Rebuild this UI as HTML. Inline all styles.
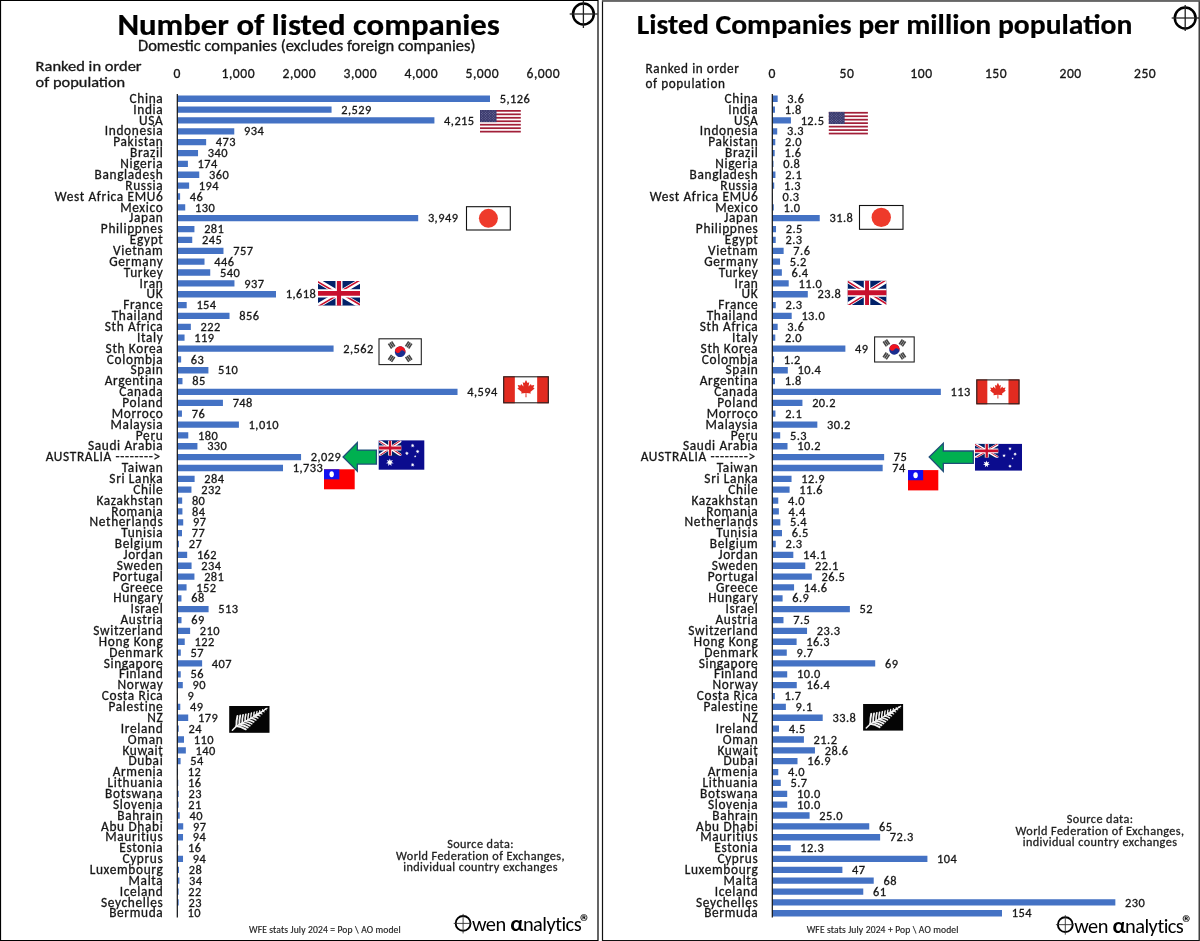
<!DOCTYPE html><html><head><meta charset="utf-8"><title>Listed companies</title><style>
html,body{margin:0;padding:0;background:#fff;width:1200px;height:941px;overflow:hidden}
svg{display:block;will-change:transform}
text{font-family:Carlito,"Liberation Sans",sans-serif;fill:#161616;stroke:#161616;stroke-width:0.3px}
.c{font-size:13.33px;letter-spacing:0.66px;text-anchor:end}
.v{font-size:12.4px;letter-spacing:0.45px}
.ax{font-size:13.6px;letter-spacing:0.5px;text-anchor:middle}
.t1{font-size:31.0px;font-weight:700;fill:#000;stroke:#000;stroke-width:0.2px}
.t2{font-size:28.0px;font-weight:700;fill:#000;stroke:#000;stroke-width:0.2px}
.sub{font-size:15.3px}
.rk{font-size:14.4px}
.rk2{font-size:13.2px;letter-spacing:0.6px}
.src{font-size:12.2px;letter-spacing:0.42px;text-anchor:middle;fill:#222;stroke:#222}
.ft{font-size:9.6px;letter-spacing:0.13px;fill:#222;stroke:#222;stroke-width:0.15px}
.logo{font-size:20.4px;fill:#000;stroke:none}
.alpha{font-weight:700;font-size:22.6px;fill:#000;stroke:none}
.reg{font-size:21px;font-weight:700;fill:#000;stroke:none}
</style></head><body>
<svg width="1200" height="941" viewBox="0 0 1200 941">
<defs><symbol id="uj" viewBox="0 0 60 30" preserveAspectRatio="none"><clipPath id="ujs"><path d="M0,0v30h60v-30z"/></clipPath><clipPath id="ujt"><path d="M30,15h30v15zv15h-30zh-30v-15zv-15h30z"/></clipPath><g clip-path="url(#ujs)"><path d="M0,0v30h60v-30z" fill="#012169"/><path d="M0,0L60,30M60,0L0,30" stroke="#fff" stroke-width="6"/><path d="M0,0L60,30M60,0L0,30" clip-path="url(#ujt)" stroke="#C8102E" stroke-width="4"/><path d="M30,0v30M0,15h60" stroke="#fff" stroke-width="10"/><path d="M30,0v30M0,15h60" stroke="#C8102E" stroke-width="6"/></g></symbol></defs>
<rect width="1200" height="941" fill="#fff"/>
<path d="M177.30,95.60h312.69v6.3h-312.69zM177.30,106.46h154.27v6.3h-154.27zM177.30,117.32h257.12v6.3h-257.12zM177.30,128.18h56.97v6.3h-56.97zM177.30,139.04h28.85v6.3h-28.85zM177.30,149.90h20.74v6.3h-20.74zM177.30,160.76h10.61v6.3h-10.61zM177.30,171.62h21.96v6.3h-21.96zM177.30,182.48h11.83v6.3h-11.83zM177.30,193.34h2.81v6.3h-2.81zM177.30,204.20h7.93v6.3h-7.93zM177.30,215.06h240.89v6.3h-240.89zM177.30,225.92h17.14v6.3h-17.14zM177.30,236.78h14.95v6.3h-14.95zM177.30,247.64h46.18v6.3h-46.18zM177.30,258.50h27.21v6.3h-27.21zM177.30,269.36h32.94v6.3h-32.94zM177.30,280.22h57.16v6.3h-57.16zM177.30,291.08h98.70v6.3h-98.70zM177.30,301.94h9.39v6.3h-9.39zM177.30,312.80h52.22v6.3h-52.22zM177.30,323.66h13.54v6.3h-13.54zM177.30,334.52h7.26v6.3h-7.26zM177.30,345.38h156.28v6.3h-156.28zM177.30,356.24h3.84v6.3h-3.84zM177.30,367.10h31.11v6.3h-31.11zM177.30,377.96h5.18v6.3h-5.18zM177.30,388.82h280.23v6.3h-280.23zM177.30,399.68h45.63v6.3h-45.63zM177.30,410.54h4.64v6.3h-4.64zM177.30,421.40h61.61v6.3h-61.61zM177.30,432.26h10.98v6.3h-10.98zM177.30,443.12h20.13v6.3h-20.13zM177.30,453.98h123.77v6.3h-123.77zM177.30,464.84h105.71v6.3h-105.71zM177.30,475.70h17.32v6.3h-17.32zM177.30,486.56h14.15v6.3h-14.15zM177.30,497.42h4.88v6.3h-4.88zM177.30,508.28h5.12v6.3h-5.12zM177.30,519.14h5.92v6.3h-5.92zM177.30,530.00h4.70v6.3h-4.70zM177.30,540.86h1.65v6.3h-1.65zM177.30,551.72h9.88v6.3h-9.88zM177.30,562.58h14.27v6.3h-14.27zM177.30,573.44h17.14v6.3h-17.14zM177.30,584.30h9.27v6.3h-9.27zM177.30,595.16h4.15v6.3h-4.15zM177.30,606.02h31.29v6.3h-31.29zM177.30,616.88h4.21v6.3h-4.21zM177.30,627.74h12.81v6.3h-12.81zM177.30,638.60h7.44v6.3h-7.44zM177.30,649.46h3.48v6.3h-3.48zM177.30,660.32h24.83v6.3h-24.83zM177.30,671.18h3.42v6.3h-3.42zM177.30,682.04h5.49v6.3h-5.49zM177.30,692.90h0.55v6.3h-0.55zM177.30,703.76h2.99v6.3h-2.99zM177.30,714.62h10.92v6.3h-10.92zM177.30,725.48h1.46v6.3h-1.46zM177.30,736.34h6.71v6.3h-6.71zM177.30,747.20h8.54v6.3h-8.54zM177.30,758.06h3.29v6.3h-3.29zM177.30,768.92h0.73v6.3h-0.73zM177.30,779.78h0.98v6.3h-0.98zM177.30,790.64h1.40v6.3h-1.40zM177.30,801.50h1.28v6.3h-1.28zM177.30,812.36h2.44v6.3h-2.44zM177.30,823.22h5.92v6.3h-5.92zM177.30,834.08h5.73v6.3h-5.73zM177.30,844.94h0.98v6.3h-0.98zM177.30,855.80h5.73v6.3h-5.73zM177.30,866.66h1.71v6.3h-1.71zM177.30,877.52h2.07v6.3h-2.07zM177.30,888.38h1.34v6.3h-1.34zM177.30,899.24h1.40v6.3h-1.40zM177.30,910.10h0.61v6.3h-0.61z" fill="#4472C4"/>
<text textLength="33.86" lengthAdjust="spacing" x="163.36" y="102.90" class="c">China</text><text textLength="30.11" lengthAdjust="spacing" x="163.36" y="113.76" class="c">India</text><text textLength="24.28" lengthAdjust="spacing" x="163.36" y="124.62" class="c">USA</text><text textLength="58.62" lengthAdjust="spacing" x="163.36" y="135.48" class="c">Indonesia</text><text textLength="50.14" lengthAdjust="spacing" x="163.36" y="146.34" class="c">Pakistan</text><text textLength="33.36" lengthAdjust="spacing" x="163.36" y="157.20" class="c">Brazil</text><text textLength="43.17" lengthAdjust="spacing" x="163.36" y="168.06" class="c">Nigeria</text><text textLength="68.81" lengthAdjust="spacing" x="163.36" y="178.92" class="c">Bangladesh</text><text textLength="38.08" lengthAdjust="spacing" x="163.36" y="189.78" class="c">Russia</text><text textLength="108.72" lengthAdjust="spacing" x="163.36" y="200.64" class="c">West Africa EMU6</text><text textLength="43.17" lengthAdjust="spacing" x="163.36" y="211.50" class="c">Mexico</text><text textLength="34.33" lengthAdjust="spacing" x="163.36" y="222.36" class="c">Japan</text><text textLength="62.52" lengthAdjust="spacing" x="163.36" y="233.22" class="c">Philippnes</text><text textLength="33.53" lengthAdjust="spacing" x="163.36" y="244.08" class="c">Egypt</text><text textLength="50.31" lengthAdjust="spacing" x="163.36" y="254.94" class="c">Vietnam</text><text textLength="54.14" lengthAdjust="spacing" x="163.36" y="265.80" class="c">Germany</text><text textLength="39.50" lengthAdjust="spacing" x="163.36" y="276.66" class="c">Turkey</text><text textLength="23.77" lengthAdjust="spacing" x="163.36" y="287.52" class="c">Iran</text><text textLength="16.80" lengthAdjust="spacing" x="163.36" y="298.38" class="c">UK</text><text textLength="40.12" lengthAdjust="spacing" x="163.36" y="309.24" class="c">France</text><text textLength="51.67" lengthAdjust="spacing" x="163.36" y="320.10" class="c">Thailand</text><text textLength="58.61" lengthAdjust="spacing" x="163.36" y="330.96" class="c">Sth Africa</text><text textLength="26.44" lengthAdjust="spacing" x="163.36" y="341.82" class="c">Italy</text><text textLength="57.75" lengthAdjust="spacing" x="163.36" y="352.68" class="c">Sth Korea</text><text textLength="56.61" lengthAdjust="spacing" x="163.36" y="363.54" class="c">Colombia</text><text textLength="32.88" lengthAdjust="spacing" x="163.36" y="374.40" class="c">Spain</text><text textLength="58.70" lengthAdjust="spacing" x="163.36" y="385.26" class="c">Argentina</text><text textLength="44.23" lengthAdjust="spacing" x="163.36" y="396.12" class="c">Canada</text><text textLength="41.06" lengthAdjust="spacing" x="163.36" y="406.98" class="c">Poland</text><text textLength="51.72" lengthAdjust="spacing" x="163.36" y="417.84" class="c">Morroco</text><text textLength="52.83" lengthAdjust="spacing" x="163.36" y="428.70" class="c">Malaysia</text><text textLength="27.55" lengthAdjust="spacing" x="163.36" y="439.56" class="c">Peru</text><text textLength="75.42" lengthAdjust="spacing" x="163.36" y="450.42" class="c">Saudi Arabia</text><text textLength="115.05" lengthAdjust="spacing" x="160.76" y="461.28" class="c">AUSTRALIA --------&gt;</text><text textLength="41.62" lengthAdjust="spacing" x="163.36" y="472.14" class="c">Taiwan</text><text textLength="54.00" lengthAdjust="spacing" x="163.36" y="483.00" class="c">Sri Lanka</text><text textLength="30.17" lengthAdjust="spacing" x="163.36" y="493.86" class="c">Chile</text><text textLength="66.94" lengthAdjust="spacing" x="163.36" y="504.72" class="c">Kazakhstan</text><text textLength="52.09" lengthAdjust="spacing" x="163.36" y="515.58" class="c">Romania</text><text textLength="73.84" lengthAdjust="spacing" x="163.36" y="526.44" class="c">Netherlands</text><text textLength="42.02" lengthAdjust="spacing" x="163.36" y="537.30" class="c">Tunisia</text><text textLength="48.55" lengthAdjust="spacing" x="163.36" y="548.16" class="c">Belgium</text><text textLength="40.09" lengthAdjust="spacing" x="163.36" y="559.02" class="c">Jordan</text><text textLength="46.66" lengthAdjust="spacing" x="163.36" y="569.88" class="c">Sweden</text><text textLength="50.52" lengthAdjust="spacing" x="163.36" y="580.74" class="c">Portugal</text><text textLength="42.38" lengthAdjust="spacing" x="163.36" y="591.60" class="c">Greece</text><text textLength="50.09" lengthAdjust="spacing" x="163.36" y="602.46" class="c">Hungary</text><text textLength="32.98" lengthAdjust="spacing" x="163.36" y="613.32" class="c">Israel</text><text textLength="42.95" lengthAdjust="spacing" x="163.36" y="624.18" class="c">Austria</text><text textLength="70.02" lengthAdjust="spacing" x="163.36" y="635.04" class="c">Switzerland</text><text textLength="64.56" lengthAdjust="spacing" x="163.36" y="645.90" class="c">Hong Kong</text><text textLength="54.20" lengthAdjust="spacing" x="163.36" y="656.76" class="c">Denmark</text><text textLength="59.67" lengthAdjust="spacing" x="163.36" y="667.62" class="c">Singapore</text><text textLength="44.27" lengthAdjust="spacing" x="163.36" y="678.48" class="c">Finland</text><text textLength="45.86" lengthAdjust="spacing" x="163.36" y="689.34" class="c">Norway</text><text textLength="61.70" lengthAdjust="spacing" x="163.36" y="700.20" class="c">Costa Rica</text><text textLength="54.84" lengthAdjust="spacing" x="163.36" y="711.06" class="c">Palestine</text><text textLength="16.17" lengthAdjust="spacing" x="163.36" y="721.92" class="c">NZ</text><text textLength="42.53" lengthAdjust="spacing" x="163.36" y="732.78" class="c">Ireland</text><text textLength="35.50" lengthAdjust="spacing" x="163.36" y="743.64" class="c">Oman</text><text textLength="40.97" lengthAdjust="spacing" x="163.36" y="754.50" class="c">Kuwait</text><text textLength="34.95" lengthAdjust="spacing" x="163.36" y="765.36" class="c">Dubai</text><text textLength="50.70" lengthAdjust="spacing" x="163.36" y="776.22" class="c">Armenia</text><text textLength="55.91" lengthAdjust="spacing" x="163.36" y="787.08" class="c">Lithuania</text><text textLength="58.33" lengthAdjust="spacing" x="163.36" y="797.94" class="c">Botswana</text><text textLength="50.41" lengthAdjust="spacing" x="163.36" y="808.80" class="c">Slovenia</text><text textLength="46.08" lengthAdjust="spacing" x="163.36" y="819.66" class="c">Bahrain</text><text textLength="62.33" lengthAdjust="spacing" x="163.36" y="830.52" class="c">Abu Dhabi</text><text textLength="58.17" lengthAdjust="spacing" x="163.36" y="841.38" class="c">Mauritius</text><text textLength="44.00" lengthAdjust="spacing" x="163.36" y="852.24" class="c">Estonia</text><text textLength="40.97" lengthAdjust="spacing" x="163.36" y="863.10" class="c">Cyprus</text><text textLength="73.69" lengthAdjust="spacing" x="163.36" y="873.96" class="c">Luxembourg</text><text textLength="34.83" lengthAdjust="spacing" x="163.36" y="884.82" class="c">Malta</text><text textLength="43.70" lengthAdjust="spacing" x="163.36" y="895.68" class="c">Iceland</text><text textLength="62.38" lengthAdjust="spacing" x="163.36" y="906.54" class="c">Seychelles</text><text textLength="54.19" lengthAdjust="spacing" x="163.36" y="917.40" class="c">Bermuda</text>
<text textLength="30.47" lengthAdjust="spacing" x="499.69" y="102.90" class="v">5,126</text><text textLength="30.47" lengthAdjust="spacing" x="341.27" y="113.76" class="v">2,529</text><text textLength="30.47" lengthAdjust="spacing" x="444.12" y="124.62" class="v">4,215</text><text textLength="20.20" lengthAdjust="spacing" x="243.97" y="135.48" class="v">934</text><text textLength="20.20" lengthAdjust="spacing" x="215.85" y="146.34" class="v">473</text><text textLength="20.20" lengthAdjust="spacing" x="207.74" y="157.20" class="v">340</text><text textLength="20.20" lengthAdjust="spacing" x="197.61" y="168.06" class="v">174</text><text textLength="20.20" lengthAdjust="spacing" x="208.96" y="178.92" class="v">360</text><text textLength="20.20" lengthAdjust="spacing" x="198.83" y="189.78" class="v">194</text><text textLength="13.47" lengthAdjust="spacing" x="189.81" y="200.64" class="v">46</text><text textLength="20.20" lengthAdjust="spacing" x="194.93" y="211.50" class="v">130</text><text textLength="30.47" lengthAdjust="spacing" x="427.89" y="222.36" class="v">3,949</text><text textLength="20.20" lengthAdjust="spacing" x="204.14" y="233.22" class="v">281</text><text textLength="20.20" lengthAdjust="spacing" x="201.94" y="244.08" class="v">245</text><text textLength="20.20" lengthAdjust="spacing" x="233.18" y="254.94" class="v">757</text><text textLength="20.20" lengthAdjust="spacing" x="214.21" y="265.80" class="v">446</text><text textLength="20.20" lengthAdjust="spacing" x="219.94" y="276.66" class="v">540</text><text textLength="20.20" lengthAdjust="spacing" x="244.16" y="287.52" class="v">937</text><text textLength="30.47" lengthAdjust="spacing" x="285.70" y="298.38" class="v">1,618</text><text textLength="20.20" lengthAdjust="spacing" x="196.39" y="309.24" class="v">154</text><text textLength="20.20" lengthAdjust="spacing" x="239.22" y="320.10" class="v">856</text><text textLength="20.20" lengthAdjust="spacing" x="200.54" y="330.96" class="v">222</text><text textLength="20.20" lengthAdjust="spacing" x="194.26" y="341.82" class="v">119</text><text textLength="30.47" lengthAdjust="spacing" x="343.28" y="352.68" class="v">2,562</text><text textLength="13.47" lengthAdjust="spacing" x="190.84" y="363.54" class="v">63</text><text textLength="20.20" lengthAdjust="spacing" x="218.11" y="374.40" class="v">510</text><text textLength="13.47" lengthAdjust="spacing" x="192.19" y="385.26" class="v">85</text><text textLength="30.47" lengthAdjust="spacing" x="467.23" y="396.12" class="v">4,594</text><text textLength="20.20" lengthAdjust="spacing" x="232.63" y="406.98" class="v">748</text><text textLength="13.47" lengthAdjust="spacing" x="191.64" y="417.84" class="v">76</text><text textLength="30.47" lengthAdjust="spacing" x="248.61" y="428.70" class="v">1,010</text><text textLength="20.20" lengthAdjust="spacing" x="197.98" y="439.56" class="v">180</text><text textLength="20.20" lengthAdjust="spacing" x="207.13" y="450.42" class="v">330</text><text textLength="30.47" lengthAdjust="spacing" x="310.77" y="461.28" class="v">2,029</text><text textLength="30.47" lengthAdjust="spacing" x="292.71" y="472.14" class="v">1,733</text><text textLength="20.20" lengthAdjust="spacing" x="204.32" y="483.00" class="v">284</text><text textLength="20.20" lengthAdjust="spacing" x="201.15" y="493.86" class="v">232</text><text textLength="13.47" lengthAdjust="spacing" x="191.88" y="504.72" class="v">80</text><text textLength="13.47" lengthAdjust="spacing" x="192.12" y="515.58" class="v">84</text><text textLength="13.47" lengthAdjust="spacing" x="192.92" y="526.44" class="v">97</text><text textLength="13.47" lengthAdjust="spacing" x="191.70" y="537.30" class="v">77</text><text textLength="13.47" lengthAdjust="spacing" x="188.65" y="548.16" class="v">27</text><text textLength="20.20" lengthAdjust="spacing" x="196.88" y="559.02" class="v">162</text><text textLength="20.20" lengthAdjust="spacing" x="201.27" y="569.88" class="v">234</text><text textLength="20.20" lengthAdjust="spacing" x="204.14" y="580.74" class="v">281</text><text textLength="20.20" lengthAdjust="spacing" x="196.27" y="591.60" class="v">152</text><text textLength="13.47" lengthAdjust="spacing" x="191.15" y="602.46" class="v">68</text><text textLength="20.20" lengthAdjust="spacing" x="218.29" y="613.32" class="v">513</text><text textLength="13.47" lengthAdjust="spacing" x="191.21" y="624.18" class="v">69</text><text textLength="20.20" lengthAdjust="spacing" x="199.81" y="635.04" class="v">210</text><text textLength="20.20" lengthAdjust="spacing" x="194.44" y="645.90" class="v">122</text><text textLength="13.47" lengthAdjust="spacing" x="190.48" y="656.76" class="v">57</text><text textLength="20.20" lengthAdjust="spacing" x="211.83" y="667.62" class="v">407</text><text textLength="13.47" lengthAdjust="spacing" x="190.42" y="678.48" class="v">56</text><text textLength="13.47" lengthAdjust="spacing" x="192.49" y="689.34" class="v">90</text><text textLength="6.73" lengthAdjust="spacing" x="187.55" y="700.20" class="v">9</text><text textLength="13.47" lengthAdjust="spacing" x="189.99" y="711.06" class="v">49</text><text textLength="20.20" lengthAdjust="spacing" x="197.92" y="721.92" class="v">179</text><text textLength="13.47" lengthAdjust="spacing" x="188.46" y="732.78" class="v">24</text><text textLength="20.20" lengthAdjust="spacing" x="193.71" y="743.64" class="v">110</text><text textLength="20.20" lengthAdjust="spacing" x="195.54" y="754.50" class="v">140</text><text textLength="13.47" lengthAdjust="spacing" x="190.29" y="765.36" class="v">54</text><text textLength="13.47" lengthAdjust="spacing" x="187.73" y="776.22" class="v">12</text><text textLength="13.47" lengthAdjust="spacing" x="187.98" y="787.08" class="v">16</text><text textLength="13.47" lengthAdjust="spacing" x="188.40" y="797.94" class="v">23</text><text textLength="13.47" lengthAdjust="spacing" x="188.28" y="808.80" class="v">21</text><text textLength="13.47" lengthAdjust="spacing" x="189.44" y="819.66" class="v">40</text><text textLength="13.47" lengthAdjust="spacing" x="192.92" y="830.52" class="v">97</text><text textLength="13.47" lengthAdjust="spacing" x="192.73" y="841.38" class="v">94</text><text textLength="13.47" lengthAdjust="spacing" x="187.98" y="852.24" class="v">16</text><text textLength="13.47" lengthAdjust="spacing" x="192.73" y="863.10" class="v">94</text><text textLength="13.47" lengthAdjust="spacing" x="188.71" y="873.96" class="v">28</text><text textLength="13.47" lengthAdjust="spacing" x="189.07" y="884.82" class="v">34</text><text textLength="13.47" lengthAdjust="spacing" x="188.34" y="895.68" class="v">22</text><text textLength="13.47" lengthAdjust="spacing" x="188.40" y="906.54" class="v">23</text><text textLength="13.47" lengthAdjust="spacing" x="187.61" y="917.40" class="v">10</text>
<line x1="177.30" y1="94" x2="177.30" y2="917.6" stroke="#111" stroke-width="1.2"/>
<text textLength="7.39" lengthAdjust="spacing" x="177.30" y="77.8" class="ax">0</text>
<text textLength="33.45" lengthAdjust="spacing" x="238.30" y="77.8" class="ax">1,000</text>
<text textLength="33.45" lengthAdjust="spacing" x="299.30" y="77.8" class="ax">2,000</text>
<text textLength="33.45" lengthAdjust="spacing" x="360.30" y="77.8" class="ax">3,000</text>
<text textLength="33.45" lengthAdjust="spacing" x="421.30" y="77.8" class="ax">4,000</text>
<text textLength="33.45" lengthAdjust="spacing" x="482.30" y="77.8" class="ax">5,000</text>
<text textLength="33.45" lengthAdjust="spacing" x="543.30" y="77.8" class="ax">6,000</text>
<path d="M772.30,95.60h5.37v6.3h-5.37zM772.30,106.46h2.68v6.3h-2.68zM772.30,117.32h18.64v6.3h-18.64zM772.30,128.18h4.92v6.3h-4.92zM772.30,139.04h2.98v6.3h-2.98zM772.30,149.90h2.39v6.3h-2.39zM772.30,160.76h1.19v6.3h-1.19zM772.30,171.62h3.13v6.3h-3.13zM772.30,182.48h1.94v6.3h-1.94zM772.30,193.34h0.45v6.3h-0.45zM772.30,204.20h1.49v6.3h-1.49zM772.30,215.06h47.43v6.3h-47.43zM772.30,225.92h3.73v6.3h-3.73zM772.30,236.78h3.43v6.3h-3.43zM772.30,247.64h11.34v6.3h-11.34zM772.30,258.50h7.76v6.3h-7.76zM772.30,269.36h9.55v6.3h-9.55zM772.30,280.22h16.41v6.3h-16.41zM772.30,291.08h35.50v6.3h-35.50zM772.30,301.94h3.43v6.3h-3.43zM772.30,312.80h19.39v6.3h-19.39zM772.30,323.66h5.37v6.3h-5.37zM772.30,334.52h2.98v6.3h-2.98zM772.30,345.38h73.08v6.3h-73.08zM772.30,356.24h1.79v6.3h-1.79zM772.30,367.10h15.51v6.3h-15.51zM772.30,377.96h2.68v6.3h-2.68zM772.30,388.82h168.54v6.3h-168.54zM772.30,399.68h30.13v6.3h-30.13zM772.30,410.54h3.13v6.3h-3.13zM772.30,421.40h45.04v6.3h-45.04zM772.30,432.26h7.90v6.3h-7.90zM772.30,443.12h15.21v6.3h-15.21zM772.30,453.98h111.86v6.3h-111.86zM772.30,464.84h110.37v6.3h-110.37zM772.30,475.70h19.24v6.3h-19.24zM772.30,486.56h17.30v6.3h-17.30zM772.30,497.42h5.97v6.3h-5.97zM772.30,508.28h6.56v6.3h-6.56zM772.30,519.14h8.05v6.3h-8.05zM772.30,530.00h9.69v6.3h-9.69zM772.30,540.86h3.43v6.3h-3.43zM772.30,551.72h21.03v6.3h-21.03zM772.30,562.58h32.96v6.3h-32.96zM772.30,573.44h39.52v6.3h-39.52zM772.30,584.30h21.78v6.3h-21.78zM772.30,595.16h10.29v6.3h-10.29zM772.30,606.02h77.56v6.3h-77.56zM772.30,616.88h11.19v6.3h-11.19zM772.30,627.74h34.75v6.3h-34.75zM772.30,638.60h24.31v6.3h-24.31zM772.30,649.46h14.47v6.3h-14.47zM772.30,660.32h102.91v6.3h-102.91zM772.30,671.18h14.92v6.3h-14.92zM772.30,682.04h24.46v6.3h-24.46zM772.30,692.90h2.54v6.3h-2.54zM772.30,703.76h13.57v6.3h-13.57zM772.30,714.62h50.41v6.3h-50.41zM772.30,725.48h6.71v6.3h-6.71zM772.30,736.34h31.62v6.3h-31.62zM772.30,747.20h42.66v6.3h-42.66zM772.30,758.06h25.21v6.3h-25.21zM772.30,768.92h5.97v6.3h-5.97zM772.30,779.78h8.50v6.3h-8.50zM772.30,790.64h14.92v6.3h-14.92zM772.30,801.50h14.92v6.3h-14.92zM772.30,812.36h37.29v6.3h-37.29zM772.30,823.22h96.95v6.3h-96.95zM772.30,834.08h107.84v6.3h-107.84zM772.30,844.94h18.35v6.3h-18.35zM772.30,855.80h155.12v6.3h-155.12zM772.30,866.66h70.10v6.3h-70.10zM772.30,877.52h101.42v6.3h-101.42zM772.30,888.38h90.98v6.3h-90.98zM772.30,899.24h343.05v6.3h-343.05zM772.30,910.10h229.69v6.3h-229.69z" fill="#4472C4"/>
<text textLength="33.86" lengthAdjust="spacing" x="758.36" y="102.90" class="c">China</text><text textLength="30.11" lengthAdjust="spacing" x="758.36" y="113.76" class="c">India</text><text textLength="24.28" lengthAdjust="spacing" x="758.36" y="124.62" class="c">USA</text><text textLength="58.62" lengthAdjust="spacing" x="758.36" y="135.48" class="c">Indonesia</text><text textLength="50.14" lengthAdjust="spacing" x="758.36" y="146.34" class="c">Pakistan</text><text textLength="33.36" lengthAdjust="spacing" x="758.36" y="157.20" class="c">Brazil</text><text textLength="43.17" lengthAdjust="spacing" x="758.36" y="168.06" class="c">Nigeria</text><text textLength="68.81" lengthAdjust="spacing" x="758.36" y="178.92" class="c">Bangladesh</text><text textLength="38.08" lengthAdjust="spacing" x="758.36" y="189.78" class="c">Russia</text><text textLength="108.72" lengthAdjust="spacing" x="758.36" y="200.64" class="c">West Africa EMU6</text><text textLength="43.17" lengthAdjust="spacing" x="758.36" y="211.50" class="c">Mexico</text><text textLength="34.33" lengthAdjust="spacing" x="758.36" y="222.36" class="c">Japan</text><text textLength="62.52" lengthAdjust="spacing" x="758.36" y="233.22" class="c">Philippnes</text><text textLength="33.53" lengthAdjust="spacing" x="758.36" y="244.08" class="c">Egypt</text><text textLength="50.31" lengthAdjust="spacing" x="758.36" y="254.94" class="c">Vietnam</text><text textLength="54.14" lengthAdjust="spacing" x="758.36" y="265.80" class="c">Germany</text><text textLength="39.50" lengthAdjust="spacing" x="758.36" y="276.66" class="c">Turkey</text><text textLength="23.77" lengthAdjust="spacing" x="758.36" y="287.52" class="c">Iran</text><text textLength="16.80" lengthAdjust="spacing" x="758.36" y="298.38" class="c">UK</text><text textLength="40.12" lengthAdjust="spacing" x="758.36" y="309.24" class="c">France</text><text textLength="51.67" lengthAdjust="spacing" x="758.36" y="320.10" class="c">Thailand</text><text textLength="58.61" lengthAdjust="spacing" x="758.36" y="330.96" class="c">Sth Africa</text><text textLength="26.44" lengthAdjust="spacing" x="758.36" y="341.82" class="c">Italy</text><text textLength="57.75" lengthAdjust="spacing" x="758.36" y="352.68" class="c">Sth Korea</text><text textLength="56.61" lengthAdjust="spacing" x="758.36" y="363.54" class="c">Colombia</text><text textLength="32.88" lengthAdjust="spacing" x="758.36" y="374.40" class="c">Spain</text><text textLength="58.70" lengthAdjust="spacing" x="758.36" y="385.26" class="c">Argentina</text><text textLength="44.23" lengthAdjust="spacing" x="758.36" y="396.12" class="c">Canada</text><text textLength="41.06" lengthAdjust="spacing" x="758.36" y="406.98" class="c">Poland</text><text textLength="51.72" lengthAdjust="spacing" x="758.36" y="417.84" class="c">Morroco</text><text textLength="52.83" lengthAdjust="spacing" x="758.36" y="428.70" class="c">Malaysia</text><text textLength="27.55" lengthAdjust="spacing" x="758.36" y="439.56" class="c">Peru</text><text textLength="75.42" lengthAdjust="spacing" x="758.36" y="450.42" class="c">Saudi Arabia</text><text textLength="115.05" lengthAdjust="spacing" x="755.76" y="461.28" class="c">AUSTRALIA --------&gt;</text><text textLength="41.62" lengthAdjust="spacing" x="758.36" y="472.14" class="c">Taiwan</text><text textLength="54.00" lengthAdjust="spacing" x="758.36" y="483.00" class="c">Sri Lanka</text><text textLength="30.17" lengthAdjust="spacing" x="758.36" y="493.86" class="c">Chile</text><text textLength="66.94" lengthAdjust="spacing" x="758.36" y="504.72" class="c">Kazakhstan</text><text textLength="52.09" lengthAdjust="spacing" x="758.36" y="515.58" class="c">Romania</text><text textLength="73.84" lengthAdjust="spacing" x="758.36" y="526.44" class="c">Netherlands</text><text textLength="42.02" lengthAdjust="spacing" x="758.36" y="537.30" class="c">Tunisia</text><text textLength="48.55" lengthAdjust="spacing" x="758.36" y="548.16" class="c">Belgium</text><text textLength="40.09" lengthAdjust="spacing" x="758.36" y="559.02" class="c">Jordan</text><text textLength="46.66" lengthAdjust="spacing" x="758.36" y="569.88" class="c">Sweden</text><text textLength="50.52" lengthAdjust="spacing" x="758.36" y="580.74" class="c">Portugal</text><text textLength="42.38" lengthAdjust="spacing" x="758.36" y="591.60" class="c">Greece</text><text textLength="50.09" lengthAdjust="spacing" x="758.36" y="602.46" class="c">Hungary</text><text textLength="32.98" lengthAdjust="spacing" x="758.36" y="613.32" class="c">Israel</text><text textLength="42.95" lengthAdjust="spacing" x="758.36" y="624.18" class="c">Austria</text><text textLength="70.02" lengthAdjust="spacing" x="758.36" y="635.04" class="c">Switzerland</text><text textLength="64.56" lengthAdjust="spacing" x="758.36" y="645.90" class="c">Hong Kong</text><text textLength="54.20" lengthAdjust="spacing" x="758.36" y="656.76" class="c">Denmark</text><text textLength="59.67" lengthAdjust="spacing" x="758.36" y="667.62" class="c">Singapore</text><text textLength="44.27" lengthAdjust="spacing" x="758.36" y="678.48" class="c">Finland</text><text textLength="45.86" lengthAdjust="spacing" x="758.36" y="689.34" class="c">Norway</text><text textLength="61.70" lengthAdjust="spacing" x="758.36" y="700.20" class="c">Costa Rica</text><text textLength="54.84" lengthAdjust="spacing" x="758.36" y="711.06" class="c">Palestine</text><text textLength="16.17" lengthAdjust="spacing" x="758.36" y="721.92" class="c">NZ</text><text textLength="42.53" lengthAdjust="spacing" x="758.36" y="732.78" class="c">Ireland</text><text textLength="35.50" lengthAdjust="spacing" x="758.36" y="743.64" class="c">Oman</text><text textLength="40.97" lengthAdjust="spacing" x="758.36" y="754.50" class="c">Kuwait</text><text textLength="34.95" lengthAdjust="spacing" x="758.36" y="765.36" class="c">Dubai</text><text textLength="50.70" lengthAdjust="spacing" x="758.36" y="776.22" class="c">Armenia</text><text textLength="55.91" lengthAdjust="spacing" x="758.36" y="787.08" class="c">Lithuania</text><text textLength="58.33" lengthAdjust="spacing" x="758.36" y="797.94" class="c">Botswana</text><text textLength="50.41" lengthAdjust="spacing" x="758.36" y="808.80" class="c">Slovenia</text><text textLength="46.08" lengthAdjust="spacing" x="758.36" y="819.66" class="c">Bahrain</text><text textLength="62.33" lengthAdjust="spacing" x="758.36" y="830.52" class="c">Abu Dhabi</text><text textLength="58.17" lengthAdjust="spacing" x="758.36" y="841.38" class="c">Mauritius</text><text textLength="44.00" lengthAdjust="spacing" x="758.36" y="852.24" class="c">Estonia</text><text textLength="40.97" lengthAdjust="spacing" x="758.36" y="863.10" class="c">Cyprus</text><text textLength="73.69" lengthAdjust="spacing" x="758.36" y="873.96" class="c">Luxembourg</text><text textLength="34.83" lengthAdjust="spacing" x="758.36" y="884.82" class="c">Malta</text><text textLength="43.70" lengthAdjust="spacing" x="758.36" y="895.68" class="c">Iceland</text><text textLength="62.38" lengthAdjust="spacing" x="758.36" y="906.54" class="c">Seychelles</text><text textLength="54.19" lengthAdjust="spacing" x="758.36" y="917.40" class="c">Bermuda</text>
<text textLength="17.05" lengthAdjust="spacing" x="787.37" y="102.90" class="v">3.6</text><text textLength="17.05" lengthAdjust="spacing" x="784.68" y="113.76" class="v">1.8</text><text textLength="23.78" lengthAdjust="spacing" x="800.64" y="124.62" class="v">12.5</text><text textLength="17.05" lengthAdjust="spacing" x="786.92" y="135.48" class="v">3.3</text><text textLength="17.05" lengthAdjust="spacing" x="784.98" y="146.34" class="v">2.0</text><text textLength="17.05" lengthAdjust="spacing" x="784.39" y="157.20" class="v">1.6</text><text textLength="17.05" lengthAdjust="spacing" x="783.19" y="168.06" class="v">0.8</text><text textLength="17.05" lengthAdjust="spacing" x="785.13" y="178.92" class="v">2.1</text><text textLength="17.05" lengthAdjust="spacing" x="783.94" y="189.78" class="v">1.3</text><text textLength="17.05" lengthAdjust="spacing" x="782.45" y="200.64" class="v">0.3</text><text textLength="17.05" lengthAdjust="spacing" x="783.49" y="211.50" class="v">1.0</text><text textLength="23.78" lengthAdjust="spacing" x="829.43" y="222.36" class="v">31.8</text><text textLength="17.05" lengthAdjust="spacing" x="785.73" y="233.22" class="v">2.5</text><text textLength="17.05" lengthAdjust="spacing" x="785.43" y="244.08" class="v">2.3</text><text textLength="17.05" lengthAdjust="spacing" x="793.34" y="254.94" class="v">7.6</text><text textLength="17.05" lengthAdjust="spacing" x="789.76" y="265.80" class="v">5.2</text><text textLength="17.05" lengthAdjust="spacing" x="791.55" y="276.66" class="v">6.4</text><text textLength="23.78" lengthAdjust="spacing" x="798.41" y="287.52" class="v">11.0</text><text textLength="23.78" lengthAdjust="spacing" x="817.50" y="298.38" class="v">23.8</text><text textLength="17.05" lengthAdjust="spacing" x="785.43" y="309.24" class="v">2.3</text><text textLength="23.78" lengthAdjust="spacing" x="801.39" y="320.10" class="v">13.0</text><text textLength="17.05" lengthAdjust="spacing" x="787.37" y="330.96" class="v">3.6</text><text textLength="17.05" lengthAdjust="spacing" x="784.98" y="341.82" class="v">2.0</text><text textLength="13.47" lengthAdjust="spacing" x="855.08" y="352.68" class="v">49</text><text textLength="17.05" lengthAdjust="spacing" x="783.79" y="363.54" class="v">1.2</text><text textLength="23.78" lengthAdjust="spacing" x="797.51" y="374.40" class="v">10.4</text><text textLength="17.05" lengthAdjust="spacing" x="784.68" y="385.26" class="v">1.8</text><text textLength="20.20" lengthAdjust="spacing" x="950.54" y="396.12" class="v">113</text><text textLength="23.78" lengthAdjust="spacing" x="812.13" y="406.98" class="v">20.2</text><text textLength="17.05" lengthAdjust="spacing" x="785.13" y="417.84" class="v">2.1</text><text textLength="23.78" lengthAdjust="spacing" x="827.04" y="428.70" class="v">30.2</text><text textLength="17.05" lengthAdjust="spacing" x="789.90" y="439.56" class="v">5.3</text><text textLength="23.78" lengthAdjust="spacing" x="797.21" y="450.42" class="v">10.2</text><text textLength="13.47" lengthAdjust="spacing" x="893.86" y="461.28" class="v">75</text><text textLength="13.47" lengthAdjust="spacing" x="892.37" y="472.14" class="v">74</text><text textLength="23.78" lengthAdjust="spacing" x="801.24" y="483.00" class="v">12.9</text><text textLength="23.78" lengthAdjust="spacing" x="799.30" y="493.86" class="v">11.6</text><text textLength="17.05" lengthAdjust="spacing" x="787.97" y="504.72" class="v">4.0</text><text textLength="17.05" lengthAdjust="spacing" x="788.56" y="515.58" class="v">4.4</text><text textLength="17.05" lengthAdjust="spacing" x="790.05" y="526.44" class="v">5.4</text><text textLength="17.05" lengthAdjust="spacing" x="791.69" y="537.30" class="v">6.5</text><text textLength="17.05" lengthAdjust="spacing" x="785.43" y="548.16" class="v">2.3</text><text textLength="23.78" lengthAdjust="spacing" x="803.03" y="559.02" class="v">14.1</text><text textLength="23.78" lengthAdjust="spacing" x="814.96" y="569.88" class="v">22.1</text><text textLength="23.78" lengthAdjust="spacing" x="821.52" y="580.74" class="v">26.5</text><text textLength="23.78" lengthAdjust="spacing" x="803.78" y="591.60" class="v">14.6</text><text textLength="17.05" lengthAdjust="spacing" x="792.29" y="602.46" class="v">6.9</text><text textLength="13.47" lengthAdjust="spacing" x="859.56" y="613.32" class="v">52</text><text textLength="17.05" lengthAdjust="spacing" x="793.19" y="624.18" class="v">7.5</text><text textLength="23.78" lengthAdjust="spacing" x="816.75" y="635.04" class="v">23.3</text><text textLength="23.78" lengthAdjust="spacing" x="806.31" y="645.90" class="v">16.3</text><text textLength="17.05" lengthAdjust="spacing" x="796.47" y="656.76" class="v">9.7</text><text textLength="13.47" lengthAdjust="spacing" x="884.91" y="667.62" class="v">69</text><text textLength="23.78" lengthAdjust="spacing" x="796.91" y="678.48" class="v">10.0</text><text textLength="23.78" lengthAdjust="spacing" x="806.46" y="689.34" class="v">16.4</text><text textLength="17.05" lengthAdjust="spacing" x="784.54" y="700.20" class="v">1.7</text><text textLength="17.05" lengthAdjust="spacing" x="795.57" y="711.06" class="v">9.1</text><text textLength="23.78" lengthAdjust="spacing" x="832.41" y="721.92" class="v">33.8</text><text textLength="17.05" lengthAdjust="spacing" x="788.71" y="732.78" class="v">4.5</text><text textLength="23.78" lengthAdjust="spacing" x="813.62" y="743.64" class="v">21.2</text><text textLength="23.78" lengthAdjust="spacing" x="824.66" y="754.50" class="v">28.6</text><text textLength="23.78" lengthAdjust="spacing" x="807.21" y="765.36" class="v">16.9</text><text textLength="17.05" lengthAdjust="spacing" x="787.97" y="776.22" class="v">4.0</text><text textLength="17.05" lengthAdjust="spacing" x="790.50" y="787.08" class="v">5.7</text><text textLength="23.78" lengthAdjust="spacing" x="796.91" y="797.94" class="v">10.0</text><text textLength="23.78" lengthAdjust="spacing" x="796.91" y="808.80" class="v">10.0</text><text textLength="23.78" lengthAdjust="spacing" x="819.29" y="819.66" class="v">25.0</text><text textLength="13.47" lengthAdjust="spacing" x="878.95" y="830.52" class="v">65</text><text textLength="23.78" lengthAdjust="spacing" x="889.84" y="841.38" class="v">72.3</text><text textLength="23.78" lengthAdjust="spacing" x="800.35" y="852.24" class="v">12.3</text><text textLength="20.20" lengthAdjust="spacing" x="937.12" y="863.10" class="v">104</text><text textLength="13.47" lengthAdjust="spacing" x="852.10" y="873.96" class="v">47</text><text textLength="13.47" lengthAdjust="spacing" x="883.42" y="884.82" class="v">68</text><text textLength="13.47" lengthAdjust="spacing" x="872.98" y="895.68" class="v">61</text><text textLength="20.20" lengthAdjust="spacing" x="1125.05" y="906.54" class="v">230</text><text textLength="20.20" lengthAdjust="spacing" x="1011.69" y="917.40" class="v">154</text>
<line x1="772.30" y1="94" x2="772.30" y2="917.6" stroke="#111" stroke-width="1.2"/>
<text textLength="7.39" lengthAdjust="spacing" x="772.30" y="78.2" class="ax">0</text>
<text textLength="14.78" lengthAdjust="spacing" x="846.88" y="78.2" class="ax">50</text>
<text textLength="22.17" lengthAdjust="spacing" x="921.45" y="78.2" class="ax">100</text>
<text textLength="22.17" lengthAdjust="spacing" x="996.02" y="78.2" class="ax">150</text>
<text textLength="22.17" lengthAdjust="spacing" x="1070.60" y="78.2" class="ax">200</text>
<text textLength="22.17" lengthAdjust="spacing" x="1145.17" y="78.2" class="ax">250</text>
<text x="117.4" y="35.4" class="t1" textLength="382.5" lengthAdjust="spacingAndGlyphs">Number of listed companies</text>
<text x="138" y="50.9" class="sub" textLength="337.5" lengthAdjust="spacingAndGlyphs">Domestic companies (excludes foreign companies)</text>
<text x="35.6" y="71.3" class="rk" textLength="106" lengthAdjust="spacingAndGlyphs">Ranked in order</text><text x="35.6" y="86.9" class="rk" textLength="89.6" lengthAdjust="spacingAndGlyphs">of population</text>
<text x="636.8" y="33.5" class="t2" textLength="495.5" lengthAdjust="spacingAndGlyphs">Listed Companies per million population</text>
<text textLength="93.84" lengthAdjust="spacing" x="645.5" y="72.8" class="rk2">Ranked in order</text><text textLength="80.06" lengthAdjust="spacing" x="645.5" y="87.5" class="rk2">of population</text>
<text textLength="66.69" lengthAdjust="spacing" x="480.5" y="848" class="src">Source data:</text>
<text textLength="168.88" lengthAdjust="spacing" x="480.5" y="860" class="src">World Federation of Exchanges,</text>
<text textLength="154.66" lengthAdjust="spacing" x="480.5" y="871.4" class="src">individual country exchanges</text>
<text textLength="66.69" lengthAdjust="spacing" x="1100" y="823" class="src">Source data:</text>
<text textLength="168.88" lengthAdjust="spacing" x="1100" y="835" class="src">World Federation of Exchanges,</text>
<text textLength="154.66" lengthAdjust="spacing" x="1100" y="846.4" class="src">individual country exchanges</text>
<text textLength="151.86" lengthAdjust="spacing" x="249" y="933.3" class="ft">WFE stats July 2024 = Pop \ AO model</text>
<text textLength="151.86" lengthAdjust="spacing" x="806.7" y="933.3" class="ft">WFE stats July 2024 + Pop \ AO model</text>
<circle cx="463.10" cy="923.40" r="7.40" fill="none" stroke="#000" stroke-width="1.9"/><line x1="453.70" y1="923.40" x2="471.10" y2="923.40" stroke="#333" stroke-width="0.9"/><line x1="463.10" y1="913.90" x2="463.10" y2="933.40" stroke="#333" stroke-width="0.9"/><text textLength="33.61" lengthAdjust="spacing" x="472.00" y="931.25" class="logo" style="letter-spacing:-0.55px">wen</text><text textLength="13.36" lengthAdjust="spacing" x="510.30" y="931.25" class="alpha">α</text><text textLength="58.20" lengthAdjust="spacing" x="522.90" y="931.25" class="logo" style="letter-spacing:-0.55px">nalytics</text><text textLength="10.66" lengthAdjust="spacing" x="580.00" y="928.15" class="reg">®</text>
<circle cx="1065.30" cy="924.65" r="7.40" fill="none" stroke="#000" stroke-width="1.9"/><line x1="1055.90" y1="924.65" x2="1073.30" y2="924.65" stroke="#333" stroke-width="0.9"/><line x1="1065.30" y1="915.15" x2="1065.30" y2="934.65" stroke="#333" stroke-width="0.9"/><text textLength="33.61" lengthAdjust="spacing" x="1074.20" y="932.50" class="logo" style="letter-spacing:-0.55px">wen</text><text textLength="13.36" lengthAdjust="spacing" x="1112.50" y="932.50" class="alpha">α</text><text textLength="58.20" lengthAdjust="spacing" x="1125.10" y="932.50" class="logo" style="letter-spacing:-0.55px">nalytics</text><text textLength="10.66" lengthAdjust="spacing" x="1182.20" y="929.40" class="reg">®</text>
<g transform="translate(480,110) scale(1.0,1.0)"><rect width="40.8" height="22.5" fill="#fff"/><rect y="0.00" width="40.8" height="1.73" fill="#A21F38"/><rect y="3.46" width="40.8" height="1.73" fill="#A21F38"/><rect y="6.92" width="40.8" height="1.73" fill="#A21F38"/><rect y="10.38" width="40.8" height="1.73" fill="#A21F38"/><rect y="13.85" width="40.8" height="1.73" fill="#A21F38"/><rect y="17.31" width="40.8" height="1.73" fill="#A21F38"/><rect y="20.77" width="40.8" height="1.73" fill="#A21F38"/><rect width="16.5" height="12.12" fill="#3C3B6E"/><circle cx="1.40" cy="0.90" r="0.42" fill="#9a9cc4"/><circle cx="4.10" cy="0.90" r="0.42" fill="#9a9cc4"/><circle cx="6.80" cy="0.90" r="0.42" fill="#9a9cc4"/><circle cx="9.50" cy="0.90" r="0.42" fill="#9a9cc4"/><circle cx="12.20" cy="0.90" r="0.42" fill="#9a9cc4"/><circle cx="14.90" cy="0.90" r="0.42" fill="#9a9cc4"/><circle cx="2.75" cy="2.18" r="0.42" fill="#9a9cc4"/><circle cx="5.45" cy="2.18" r="0.42" fill="#9a9cc4"/><circle cx="8.15" cy="2.18" r="0.42" fill="#9a9cc4"/><circle cx="10.85" cy="2.18" r="0.42" fill="#9a9cc4"/><circle cx="13.55" cy="2.18" r="0.42" fill="#9a9cc4"/><circle cx="1.40" cy="3.46" r="0.42" fill="#9a9cc4"/><circle cx="4.10" cy="3.46" r="0.42" fill="#9a9cc4"/><circle cx="6.80" cy="3.46" r="0.42" fill="#9a9cc4"/><circle cx="9.50" cy="3.46" r="0.42" fill="#9a9cc4"/><circle cx="12.20" cy="3.46" r="0.42" fill="#9a9cc4"/><circle cx="14.90" cy="3.46" r="0.42" fill="#9a9cc4"/><circle cx="2.75" cy="4.74" r="0.42" fill="#9a9cc4"/><circle cx="5.45" cy="4.74" r="0.42" fill="#9a9cc4"/><circle cx="8.15" cy="4.74" r="0.42" fill="#9a9cc4"/><circle cx="10.85" cy="4.74" r="0.42" fill="#9a9cc4"/><circle cx="13.55" cy="4.74" r="0.42" fill="#9a9cc4"/><circle cx="1.40" cy="6.02" r="0.42" fill="#9a9cc4"/><circle cx="4.10" cy="6.02" r="0.42" fill="#9a9cc4"/><circle cx="6.80" cy="6.02" r="0.42" fill="#9a9cc4"/><circle cx="9.50" cy="6.02" r="0.42" fill="#9a9cc4"/><circle cx="12.20" cy="6.02" r="0.42" fill="#9a9cc4"/><circle cx="14.90" cy="6.02" r="0.42" fill="#9a9cc4"/><circle cx="2.75" cy="7.30" r="0.42" fill="#9a9cc4"/><circle cx="5.45" cy="7.30" r="0.42" fill="#9a9cc4"/><circle cx="8.15" cy="7.30" r="0.42" fill="#9a9cc4"/><circle cx="10.85" cy="7.30" r="0.42" fill="#9a9cc4"/><circle cx="13.55" cy="7.30" r="0.42" fill="#9a9cc4"/><circle cx="1.40" cy="8.58" r="0.42" fill="#9a9cc4"/><circle cx="4.10" cy="8.58" r="0.42" fill="#9a9cc4"/><circle cx="6.80" cy="8.58" r="0.42" fill="#9a9cc4"/><circle cx="9.50" cy="8.58" r="0.42" fill="#9a9cc4"/><circle cx="12.20" cy="8.58" r="0.42" fill="#9a9cc4"/><circle cx="14.90" cy="8.58" r="0.42" fill="#9a9cc4"/><circle cx="2.75" cy="9.86" r="0.42" fill="#9a9cc4"/><circle cx="5.45" cy="9.86" r="0.42" fill="#9a9cc4"/><circle cx="8.15" cy="9.86" r="0.42" fill="#9a9cc4"/><circle cx="10.85" cy="9.86" r="0.42" fill="#9a9cc4"/><circle cx="13.55" cy="9.86" r="0.42" fill="#9a9cc4"/><circle cx="1.40" cy="11.14" r="0.42" fill="#9a9cc4"/><circle cx="4.10" cy="11.14" r="0.42" fill="#9a9cc4"/><circle cx="6.80" cy="11.14" r="0.42" fill="#9a9cc4"/><circle cx="9.50" cy="11.14" r="0.42" fill="#9a9cc4"/><circle cx="12.20" cy="11.14" r="0.42" fill="#9a9cc4"/><circle cx="14.90" cy="11.14" r="0.42" fill="#9a9cc4"/></g>
<rect x="466.5" y="206.7" width="43.8" height="23.3" fill="#fff" stroke="#111" stroke-width="1.1"/><circle cx="488.4" cy="218.35" r="9.48" fill="#EE3A2B"/>
<use href="#uj" x="318" y="281" width="42" height="24.7"/>
<rect x="379.0" y="338.8" width="42.3" height="25.8" fill="#fff" stroke="#222" stroke-width="1.1"/><g transform="translate(400.15,351.70) rotate(33.7)"><circle r="5.36" fill="#1B2E8F"/><path d="M-5.36,0 A5.36,5.36 0 0 1 5.36,0 A2.68,2.68 0 0 0 0,0 A2.68,2.68 0 0 1 -5.36,0Z" fill="#F0141E"/></g><g transform="translate(391.58,345.00) rotate(56.3)"><rect x="-2.9" y="-2.75" width="5.8" height="1.6" fill="#444"/><rect x="-2.9" y="-0.85" width="5.8" height="1.6" fill="#444"/><rect x="-2.9" y="1.05" width="5.8" height="1.6" fill="#444"/></g><g transform="translate(408.72,345.00) rotate(-56.3)"><rect x="-2.9" y="-2.75" width="5.8" height="1.6" fill="#444"/><rect x="-2.9" y="-0.85" width="5.8" height="1.6" fill="#444"/><rect x="-2.9" y="1.05" width="5.8" height="1.6" fill="#444"/></g><g transform="translate(391.58,358.40) rotate(-56.3)"><rect x="-2.9" y="-2.75" width="5.8" height="1.6" fill="#444"/><rect x="-2.9" y="-0.85" width="5.8" height="1.6" fill="#444"/><rect x="-2.9" y="1.05" width="5.8" height="1.6" fill="#444"/></g><g transform="translate(408.72,358.40) rotate(56.3)"><rect x="-2.9" y="-2.75" width="5.8" height="1.6" fill="#444"/><rect x="-2.9" y="-0.85" width="5.8" height="1.6" fill="#444"/><rect x="-2.9" y="1.05" width="5.8" height="1.6" fill="#444"/></g>
<rect x="503.2" y="376.3" width="45.6" height="27" fill="#fff"/><rect x="503.2" y="376.3" width="11.63" height="27" fill="#E22B20"/><rect x="537.17" y="376.3" width="11.63" height="27" fill="#E22B20"/><path transform="translate(526.00,389.60) scale(1.200)" d="M0,-8 L1.3,-5.4 L2.7,-6.1 L2.1,-2.6 L4.1,-4.6 L4.6,-3.4 L6.9,-3.8 L6.1,-1.6 L7.2,-1 L3.6,1.9 L4.1,3.2 L0.35,2.8 L0.45,6.3 L-0.45,6.3 L-0.35,2.8 L-4.1,3.2 L-3.6,1.9 L-7.2,-1 L-6.1,-1.6 L-6.9,-3.8 L-4.6,-3.4 L-4.1,-4.6 L-2.1,-2.6 L-2.7,-6.1 L-1.3,-5.4 Z" fill="#E22B20"/><rect x="503.7" y="376.8" width="44.6" height="26" fill="none" stroke="#222" stroke-width="1.1"/>
<path d="M343.1,457 L357.3,442.5 L357.3,450.1 L376.4,450.1 L376.4,464.1 L357.3,464.1 L357.3,471.2 Z" fill="#00B050" stroke="#1F4E79" stroke-width="1.3" stroke-linejoin="miter"/>
<g transform="translate(378.7,440.4)"><rect width="45.6" height="29.3" fill="#0B0C8E"/><use href="#uj" x="0" y="0" width="22.80" height="15.24"/><polygon points="11.13,18.11 11.90,20.46 14.22,19.60 12.86,21.67 14.98,22.94 12.52,23.17 12.84,25.63 11.13,23.84 9.41,25.63 9.73,23.17 7.27,22.94 9.39,21.67 8.03,19.60 10.35,20.46" fill="#fff"/><polygon points="33.93,3.22 34.33,4.44 35.53,4.00 34.83,5.07 35.93,5.73 34.65,5.85 34.82,7.12 33.93,6.20 33.04,7.12 33.20,5.85 31.93,5.73 33.03,5.07 32.32,4.00 33.53,4.44" fill="#fff"/><polygon points="28.18,10.84 28.58,12.06 29.78,11.61 29.08,12.69 30.18,13.35 28.90,13.47 29.07,14.74 28.18,13.81 27.29,14.74 27.46,13.47 26.18,13.35 27.28,12.69 26.58,11.61 27.78,12.06" fill="#fff"/><polygon points="38.90,9.08 39.30,10.30 40.50,9.86 39.80,10.93 40.90,11.59 39.62,11.71 39.79,12.98 38.90,12.06 38.01,12.98 38.18,11.71 36.90,11.59 38.00,10.93 37.29,9.86 38.50,10.30" fill="#fff"/><polygon points="36.48,14.71 36.74,15.49 37.51,15.21 37.06,15.90 37.77,16.32 36.94,16.40 37.05,17.22 36.48,16.62 35.91,17.22 36.02,16.40 35.19,16.32 35.90,15.90 35.45,15.21 36.22,15.49" fill="#fff"/><polygon points="33.93,22.39 34.33,23.60 35.53,23.16 34.83,24.23 35.93,24.89 34.65,25.01 34.82,26.28 33.93,25.36 33.04,26.28 33.20,25.01 31.93,24.89 33.03,24.23 32.32,23.16 33.53,23.60" fill="#fff"/></g>
<rect x="324" y="469.3" width="30.7" height="20" fill="#FE0000"/><rect x="324" y="469.3" width="15.35" height="10.00" fill="#1010F0"/><ellipse cx="331.68" cy="474.30" rx="2.20" ry="3.00" fill="#fff"/>
<rect x="229.2" y="706" width="40.3" height="26.8" fill="#050505"/><g transform="translate(229.2,706) scale(0.9951,1.0000)" stroke="#f4f4f4" stroke-linecap="round" fill="none"><path d="M3.2,24.2 L7.6,19.9" stroke-width="1.5"/><polyline points="7.30,20.00 8.84,19.21 10.37,18.42 11.90,17.62 13.44,16.81 14.97,16.00 16.51,15.18 18.04,14.34 19.58,13.49 21.11,12.63 22.65,11.75 24.19,10.86 25.72,9.95 27.26,9.03 28.79,8.10 30.32,7.15 31.86,6.19 33.39,5.23 34.93,4.26 36.46,3.28 38.00,2.30" stroke-width="1.3"/><polygon points="24.74,8.66 26.06,8.06 27.39,7.45 28.71,6.84 30.04,6.21 31.37,5.57 32.69,4.93 34.02,4.28 35.35,3.62 36.67,2.96 38.00,2.30 38.00,2.30 36.75,3.35 35.50,4.39 34.25,5.43 33.00,6.47 31.75,7.50 30.50,8.52 29.25,9.53 28.00,10.53 26.75,11.53 25.51,12.51" fill="#f4f4f4" stroke="none" opacity="0.85"/><path d="M7.30,20.00 q-0.20,-5.56 1.01,-10.10" stroke-width="1.90"/><path d="M7.30,20.00 q4.55,0.51 9.39,3.33" stroke-width="1.90"/><path d="M10.20,18.51 q-0.18,-5.01 0.91,-9.11" stroke-width="1.81"/><path d="M10.20,18.51 q4.11,0.46 8.50,3.02" stroke-width="1.81"/><path d="M13.09,17.00 q-0.16,-4.47 0.81,-8.13" stroke-width="1.71"/><path d="M13.09,17.00 q3.69,0.41 7.62,2.70" stroke-width="1.71"/><path d="M15.99,15.46 q-0.14,-3.94 0.72,-7.16" stroke-width="1.62"/><path d="M15.99,15.46 q3.26,0.36 6.74,2.39" stroke-width="1.62"/><path d="M18.88,13.88 q-0.12,-3.41 0.62,-6.20" stroke-width="1.52"/><path d="M18.88,13.88 q2.85,0.32 5.88,2.09" stroke-width="1.52"/><path d="M21.78,12.25 q-0.11,-2.89 0.53,-5.26" stroke-width="1.43"/><path d="M21.78,12.25 q2.43,0.27 5.03,1.79" stroke-width="1.43"/><path d="M24.68,10.57 q-0.09,-2.38 0.43,-4.33" stroke-width="1.33"/><path d="M24.68,10.57 q2.03,0.23 4.20,1.49" stroke-width="1.33"/><path d="M27.57,8.84 q-0.07,-1.88 0.34,-3.43" stroke-width="1.24"/><path d="M27.57,8.84 q1.64,0.18 3.38,1.20" stroke-width="1.24"/><path d="M30.47,7.06 q-0.05,-1.40 0.25,-2.55" stroke-width="1.15"/><path d="M30.47,7.06 q1.25,0.14 2.59,0.92" stroke-width="1.15"/><path d="M33.37,5.25 q-0.03,-0.93 0.17,-1.70" stroke-width="1.05"/><path d="M33.37,5.25 q0.88,0.10 1.82,0.65" stroke-width="1.05"/><path d="M36.26,3.41 q-0.02,-0.50 0.09,-0.91" stroke-width="0.96"/><path d="M36.26,3.41 q0.54,0.06 1.11,0.39" stroke-width="0.96"/></g>
<g transform="translate(828.8,111.9) scale(0.9583333333333335,1.0)"><rect width="40.8" height="22.5" fill="#fff"/><rect y="0.00" width="40.8" height="1.73" fill="#A21F38"/><rect y="3.46" width="40.8" height="1.73" fill="#A21F38"/><rect y="6.92" width="40.8" height="1.73" fill="#A21F38"/><rect y="10.38" width="40.8" height="1.73" fill="#A21F38"/><rect y="13.85" width="40.8" height="1.73" fill="#A21F38"/><rect y="17.31" width="40.8" height="1.73" fill="#A21F38"/><rect y="20.77" width="40.8" height="1.73" fill="#A21F38"/><rect width="16.5" height="12.12" fill="#3C3B6E"/><circle cx="1.40" cy="0.90" r="0.42" fill="#9a9cc4"/><circle cx="4.10" cy="0.90" r="0.42" fill="#9a9cc4"/><circle cx="6.80" cy="0.90" r="0.42" fill="#9a9cc4"/><circle cx="9.50" cy="0.90" r="0.42" fill="#9a9cc4"/><circle cx="12.20" cy="0.90" r="0.42" fill="#9a9cc4"/><circle cx="14.90" cy="0.90" r="0.42" fill="#9a9cc4"/><circle cx="2.75" cy="2.18" r="0.42" fill="#9a9cc4"/><circle cx="5.45" cy="2.18" r="0.42" fill="#9a9cc4"/><circle cx="8.15" cy="2.18" r="0.42" fill="#9a9cc4"/><circle cx="10.85" cy="2.18" r="0.42" fill="#9a9cc4"/><circle cx="13.55" cy="2.18" r="0.42" fill="#9a9cc4"/><circle cx="1.40" cy="3.46" r="0.42" fill="#9a9cc4"/><circle cx="4.10" cy="3.46" r="0.42" fill="#9a9cc4"/><circle cx="6.80" cy="3.46" r="0.42" fill="#9a9cc4"/><circle cx="9.50" cy="3.46" r="0.42" fill="#9a9cc4"/><circle cx="12.20" cy="3.46" r="0.42" fill="#9a9cc4"/><circle cx="14.90" cy="3.46" r="0.42" fill="#9a9cc4"/><circle cx="2.75" cy="4.74" r="0.42" fill="#9a9cc4"/><circle cx="5.45" cy="4.74" r="0.42" fill="#9a9cc4"/><circle cx="8.15" cy="4.74" r="0.42" fill="#9a9cc4"/><circle cx="10.85" cy="4.74" r="0.42" fill="#9a9cc4"/><circle cx="13.55" cy="4.74" r="0.42" fill="#9a9cc4"/><circle cx="1.40" cy="6.02" r="0.42" fill="#9a9cc4"/><circle cx="4.10" cy="6.02" r="0.42" fill="#9a9cc4"/><circle cx="6.80" cy="6.02" r="0.42" fill="#9a9cc4"/><circle cx="9.50" cy="6.02" r="0.42" fill="#9a9cc4"/><circle cx="12.20" cy="6.02" r="0.42" fill="#9a9cc4"/><circle cx="14.90" cy="6.02" r="0.42" fill="#9a9cc4"/><circle cx="2.75" cy="7.30" r="0.42" fill="#9a9cc4"/><circle cx="5.45" cy="7.30" r="0.42" fill="#9a9cc4"/><circle cx="8.15" cy="7.30" r="0.42" fill="#9a9cc4"/><circle cx="10.85" cy="7.30" r="0.42" fill="#9a9cc4"/><circle cx="13.55" cy="7.30" r="0.42" fill="#9a9cc4"/><circle cx="1.40" cy="8.58" r="0.42" fill="#9a9cc4"/><circle cx="4.10" cy="8.58" r="0.42" fill="#9a9cc4"/><circle cx="6.80" cy="8.58" r="0.42" fill="#9a9cc4"/><circle cx="9.50" cy="8.58" r="0.42" fill="#9a9cc4"/><circle cx="12.20" cy="8.58" r="0.42" fill="#9a9cc4"/><circle cx="14.90" cy="8.58" r="0.42" fill="#9a9cc4"/><circle cx="2.75" cy="9.86" r="0.42" fill="#9a9cc4"/><circle cx="5.45" cy="9.86" r="0.42" fill="#9a9cc4"/><circle cx="8.15" cy="9.86" r="0.42" fill="#9a9cc4"/><circle cx="10.85" cy="9.86" r="0.42" fill="#9a9cc4"/><circle cx="13.55" cy="9.86" r="0.42" fill="#9a9cc4"/><circle cx="1.40" cy="11.14" r="0.42" fill="#9a9cc4"/><circle cx="4.10" cy="11.14" r="0.42" fill="#9a9cc4"/><circle cx="6.80" cy="11.14" r="0.42" fill="#9a9cc4"/><circle cx="9.50" cy="11.14" r="0.42" fill="#9a9cc4"/><circle cx="12.20" cy="11.14" r="0.42" fill="#9a9cc4"/><circle cx="14.90" cy="11.14" r="0.42" fill="#9a9cc4"/></g>
<rect x="859.5" y="205.5" width="43.5" height="23.8" fill="#fff" stroke="#111" stroke-width="1.1"/><circle cx="881.25" cy="217.4" r="9.67" fill="#EE3A2B"/>
<use href="#uj" x="847.5" y="280.6" width="39.1" height="24.3"/>
<rect x="874.6" y="336.9" width="39.6" height="25.1" fill="#fff" stroke="#222" stroke-width="1.1"/><g transform="translate(894.40,349.45) rotate(33.7)"><circle r="5.22" fill="#1B2E8F"/><path d="M-5.22,0 A5.22,5.22 0 0 1 5.22,0 A2.61,2.61 0 0 0 0,0 A2.61,2.61 0 0 1 -5.22,0Z" fill="#F0141E"/></g><g transform="translate(886.36,342.93) rotate(56.3)"><rect x="-2.9" y="-2.75" width="5.8" height="1.6" fill="#444"/><rect x="-2.9" y="-0.85" width="5.8" height="1.6" fill="#444"/><rect x="-2.9" y="1.05" width="5.8" height="1.6" fill="#444"/></g><g transform="translate(902.44,342.93) rotate(-56.3)"><rect x="-2.9" y="-2.75" width="5.8" height="1.6" fill="#444"/><rect x="-2.9" y="-0.85" width="5.8" height="1.6" fill="#444"/><rect x="-2.9" y="1.05" width="5.8" height="1.6" fill="#444"/></g><g transform="translate(886.36,355.97) rotate(-56.3)"><rect x="-2.9" y="-2.75" width="5.8" height="1.6" fill="#444"/><rect x="-2.9" y="-0.85" width="5.8" height="1.6" fill="#444"/><rect x="-2.9" y="1.05" width="5.8" height="1.6" fill="#444"/></g><g transform="translate(902.44,355.97) rotate(56.3)"><rect x="-2.9" y="-2.75" width="5.8" height="1.6" fill="#444"/><rect x="-2.9" y="-0.85" width="5.8" height="1.6" fill="#444"/><rect x="-2.9" y="1.05" width="5.8" height="1.6" fill="#444"/></g>
<rect x="976.3" y="379.4" width="43.2" height="24.9" fill="#fff"/><rect x="976.3" y="379.4" width="11.02" height="24.9" fill="#E22B20"/><rect x="1008.48" y="379.4" width="11.02" height="24.9" fill="#E22B20"/><path transform="translate(997.90,391.65) scale(1.107)" d="M0,-8 L1.3,-5.4 L2.7,-6.1 L2.1,-2.6 L4.1,-4.6 L4.6,-3.4 L6.9,-3.8 L6.1,-1.6 L7.2,-1 L3.6,1.9 L4.1,3.2 L0.35,2.8 L0.45,6.3 L-0.45,6.3 L-0.35,2.8 L-4.1,3.2 L-3.6,1.9 L-7.2,-1 L-6.1,-1.6 L-6.9,-3.8 L-4.6,-3.4 L-4.1,-4.6 L-2.1,-2.6 L-2.7,-6.1 L-1.3,-5.4 Z" fill="#E22B20"/><rect x="976.8" y="379.9" width="42.2" height="23.9" fill="none" stroke="#222" stroke-width="1.1"/>
<path d="M929.2,457 L943.3,443.2 L943.3,451 L973.3,451 L973.3,463.3 L943.3,463.3 L943.3,471.5 Z" fill="#00B050" stroke="#1F4E79" stroke-width="1.3" stroke-linejoin="miter"/>
<g transform="translate(975,443.9)"><rect width="47" height="26.7" fill="#0B0C8E"/><use href="#uj" x="0" y="0" width="23.50" height="13.88"/><polygon points="11.47,16.50 12.17,18.64 14.29,17.86 13.05,19.74 14.98,20.91 12.74,21.12 13.03,23.35 11.47,21.73 9.90,23.35 10.20,21.12 7.95,20.91 9.89,19.74 8.65,17.86 10.76,18.64" fill="#fff"/><polygon points="34.97,2.94 35.33,4.05 36.43,3.64 35.79,4.62 36.79,5.22 35.63,5.33 35.78,6.49 34.97,5.65 34.16,6.49 34.31,5.33 33.15,5.22 34.15,4.62 33.51,3.64 34.60,4.05" fill="#fff"/><polygon points="29.05,9.88 29.41,10.99 30.51,10.58 29.87,11.56 30.87,12.16 29.70,12.27 29.86,13.43 29.05,12.59 28.24,13.43 28.39,12.27 27.22,12.16 28.23,11.56 27.58,10.58 28.68,10.99" fill="#fff"/><polygon points="40.09,8.28 40.46,9.39 41.55,8.98 40.91,9.96 41.91,10.56 40.75,10.67 40.90,11.83 40.09,10.99 39.28,11.83 39.43,10.67 38.27,10.56 39.27,9.96 38.63,8.98 39.73,9.39" fill="#fff"/><polygon points="37.60,13.40 37.83,14.12 38.54,13.86 38.13,14.48 38.77,14.87 38.02,14.94 38.12,15.69 37.60,15.15 37.08,15.69 37.18,14.94 36.43,14.87 37.07,14.48 36.66,13.86 37.37,14.12" fill="#fff"/><polygon points="34.97,20.40 35.33,21.51 36.43,21.10 35.79,22.08 36.79,22.68 35.63,22.79 35.78,23.95 34.97,23.11 34.16,23.95 34.31,22.79 33.15,22.68 34.15,22.08 33.51,21.10 34.60,21.51" fill="#fff"/></g>
<rect x="908" y="470.1" width="30.3" height="20.3" fill="#FE0000"/><rect x="908" y="470.1" width="15.15" height="10.15" fill="#1010F0"/><ellipse cx="915.58" cy="475.18" rx="2.23" ry="3.04" fill="#fff"/>
<rect x="863.1" y="704" width="40" height="26.6" fill="#050505"/><g transform="translate(863.1,704) scale(0.9877,0.9925)" stroke="#f4f4f4" stroke-linecap="round" fill="none"><path d="M3.2,24.2 L7.6,19.9" stroke-width="1.5"/><polyline points="7.30,20.00 8.84,19.21 10.37,18.42 11.90,17.62 13.44,16.81 14.97,16.00 16.51,15.18 18.04,14.34 19.58,13.49 21.11,12.63 22.65,11.75 24.19,10.86 25.72,9.95 27.26,9.03 28.79,8.10 30.32,7.15 31.86,6.19 33.39,5.23 34.93,4.26 36.46,3.28 38.00,2.30" stroke-width="1.3"/><polygon points="24.74,8.66 26.06,8.06 27.39,7.45 28.71,6.84 30.04,6.21 31.37,5.57 32.69,4.93 34.02,4.28 35.35,3.62 36.67,2.96 38.00,2.30 38.00,2.30 36.75,3.35 35.50,4.39 34.25,5.43 33.00,6.47 31.75,7.50 30.50,8.52 29.25,9.53 28.00,10.53 26.75,11.53 25.51,12.51" fill="#f4f4f4" stroke="none" opacity="0.85"/><path d="M7.30,20.00 q-0.20,-5.56 1.01,-10.10" stroke-width="1.90"/><path d="M7.30,20.00 q4.55,0.51 9.39,3.33" stroke-width="1.90"/><path d="M10.20,18.51 q-0.18,-5.01 0.91,-9.11" stroke-width="1.81"/><path d="M10.20,18.51 q4.11,0.46 8.50,3.02" stroke-width="1.81"/><path d="M13.09,17.00 q-0.16,-4.47 0.81,-8.13" stroke-width="1.71"/><path d="M13.09,17.00 q3.69,0.41 7.62,2.70" stroke-width="1.71"/><path d="M15.99,15.46 q-0.14,-3.94 0.72,-7.16" stroke-width="1.62"/><path d="M15.99,15.46 q3.26,0.36 6.74,2.39" stroke-width="1.62"/><path d="M18.88,13.88 q-0.12,-3.41 0.62,-6.20" stroke-width="1.52"/><path d="M18.88,13.88 q2.85,0.32 5.88,2.09" stroke-width="1.52"/><path d="M21.78,12.25 q-0.11,-2.89 0.53,-5.26" stroke-width="1.43"/><path d="M21.78,12.25 q2.43,0.27 5.03,1.79" stroke-width="1.43"/><path d="M24.68,10.57 q-0.09,-2.38 0.43,-4.33" stroke-width="1.33"/><path d="M24.68,10.57 q2.03,0.23 4.20,1.49" stroke-width="1.33"/><path d="M27.57,8.84 q-0.07,-1.88 0.34,-3.43" stroke-width="1.24"/><path d="M27.57,8.84 q1.64,0.18 3.38,1.20" stroke-width="1.24"/><path d="M30.47,7.06 q-0.05,-1.40 0.25,-2.55" stroke-width="1.15"/><path d="M30.47,7.06 q1.25,0.14 2.59,0.92" stroke-width="1.15"/><path d="M33.37,5.25 q-0.03,-0.93 0.17,-1.70" stroke-width="1.05"/><path d="M33.37,5.25 q0.88,0.10 1.82,0.65" stroke-width="1.05"/><path d="M36.26,3.41 q-0.02,-0.50 0.09,-0.91" stroke-width="0.96"/><path d="M36.26,3.41 q0.54,0.06 1.11,0.39" stroke-width="0.96"/></g>
<circle cx="583.4" cy="14" r="10.4" fill="none" stroke="#000" stroke-width="2.5"/><line x1="569.7" y1="14" x2="597.5" y2="14" stroke="#222" stroke-width="1.3"/><line x1="583.4" y1="0" x2="583.4" y2="28" stroke="#222" stroke-width="1.3"/>
<circle cx="1185.2" cy="18" r="10.4" fill="none" stroke="#000" stroke-width="2.5"/><line x1="1171.7" y1="18" x2="1199" y2="18" stroke="#222" stroke-width="1.3"/><line x1="1185.2" y1="5" x2="1185.2" y2="31" stroke="#222" stroke-width="1.3"/>
<path d="M0.5,0.5H598V940.5H0.5Z" fill="none" stroke="#000" stroke-width="1.2"/>
<path d="M602.5,0.8H1199.2V940.5H602.5Z" fill="none" stroke="#111" stroke-width="1.2"/>
<rect x="602" y="0" width="598" height="1.6" fill="#666"/>
</svg></body></html>
